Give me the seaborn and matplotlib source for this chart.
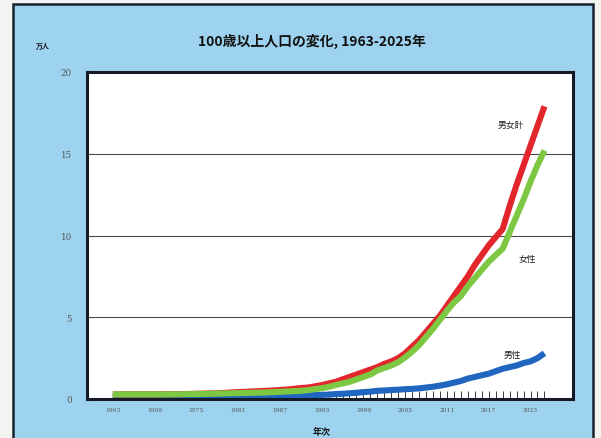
import matplotlib
matplotlib.use("Agg")
import matplotlib.pyplot as plt
from matplotlib.patches import Rectangle
import pandas as pd
import seaborn as sns

# 100歳以上人口（万人）, 1963-2025
years = list(range(1963, 2026))

total = [0.28, 0.28, 0.28, 0.28, 0.28, 0.28, 0.28, 0.29, 0.29, 0.30,
         0.30, 0.31, 0.32, 0.33, 0.34, 0.35, 0.37, 0.40, 0.42, 0.44,
         0.46, 0.48, 0.50, 0.52, 0.55, 0.58, 0.62, 0.67, 0.70, 0.77,
         0.85, 0.95, 1.05, 1.20, 1.35, 1.50, 1.65, 1.80, 1.95, 2.15,
         2.30, 2.50, 2.80, 3.20, 3.60, 4.10, 4.60, 5.10, 5.70, 6.30,
         6.90, 7.50, 8.20, 8.80, 9.40, 9.90, 10.40, 11.80, 13.10, 14.30,
         15.50, 16.70, 17.90]

female = [0.28, 0.28, 0.28, 0.28, 0.28, 0.28, 0.28, 0.28, 0.28, 0.29,
          0.29, 0.30, 0.30, 0.31, 0.32, 0.33, 0.34, 0.35, 0.36, 0.37,
          0.38, 0.39, 0.40, 0.42, 0.44, 0.46, 0.48, 0.50, 0.54, 0.60,
          0.66, 0.74, 0.85, 0.95, 1.05, 1.20, 1.35, 1.50, 1.75, 1.90,
          2.05, 2.25, 2.55, 2.90, 3.30, 3.80, 4.30, 4.85, 5.40, 5.90,
          6.30, 6.90, 7.40, 7.90, 8.40, 8.80, 9.20, 10.20, 11.20, 12.20,
          13.30, 14.30, 15.20]

male = [0.15, 0.15, 0.15, 0.15, 0.15, 0.15, 0.15, 0.15, 0.15, 0.15,
        0.15, 0.15, 0.15, 0.15, 0.15, 0.16, 0.16, 0.17, 0.17, 0.18,
        0.18, 0.19, 0.19, 0.20, 0.20, 0.21, 0.22, 0.22, 0.23, 0.24,
        0.25, 0.27, 0.30, 0.32, 0.35, 0.38, 0.42, 0.45, 0.50, 0.52,
        0.55, 0.57, 0.60, 0.62, 0.65, 0.70, 0.75, 0.82, 0.90, 1.00,
        1.10, 1.25, 1.35, 1.45, 1.55, 1.70, 1.85, 1.95, 2.05, 2.20,
        2.30, 2.50, 2.80]

series_names = ["男性", "男女計", "女性"]
series_colors = {"男女計": "#e3252c", "女性": "#7dc843", "男性": "#2066c0"}

x_label_years = list(range(1963, 2024, 6))
y_ticks = [0, 5, 10, 15, 20]

df = pd.concat([
    pd.DataFrame({"年": years, "人口": male, "区分": "男性"}),
    pd.DataFrame({"年": years, "人口": total, "区分": "男女計"}),
    pd.DataFrame({"年": years, "人口": female, "区分": "女性"}),
], ignore_index=True)

sns.set_theme(style="white")
plt.rcParams["font.family"] = ["Noto Sans CJK JP", "DejaVu Sans"]

W, H = 601, 439
fig = plt.figure(figsize=(W / 100, H / 100), dpi=100)
fig.patch.set_facecolor("#f3f3f1")

# light-blue panel with dark frame, kept behind the axes
panel = Rectangle((13 / W, 1 - 470 / H), (593 - 13) / W, (470 - 5) / H,
                  transform=fig.transFigure, facecolor="#9dd3ef",
                  edgecolor="#17202e", linewidth=1.8, zorder=-10)
fig.patches.append(panel)

ax = fig.add_axes([87 / W, 1 - 400 / H, (573 - 87) / W, (400 - 73) / H])
ax.set_zorder(1)
ax.set_facecolor("white")

sns.lineplot(data=df, x="年", y="人口", hue="区分", hue_order=series_names,
             palette=series_colors, linewidth=4.4, legend=False, ax=ax,
             solid_capstyle="butt")

ax.set_xlim(1959.3, 2029.1)
ax.set_ylim(0, 20)

for v in [5, 10, 15]:
    ax.axhline(v, color="#4a4a4a", linewidth=0.8, zorder=0.5)

ax.set_xticks(x_label_years)
ax.set_xticklabels([str(y) for y in x_label_years], fontsize=4.3,
                   family=["DejaVu Serif"], color="#555555")
ax.set_xticks(years, minor=True)
ax.tick_params(axis="x", which="both", direction="in", length=6,
               width=0.7, color="#3a3a3a", pad=6, bottom=True, top=False)
ax.set_yticks(y_ticks)
ax.set_yticklabels([str(v) for v in y_ticks], fontsize=6.2,
                   family=["DejaVu Serif"], color="#555555")
ax.tick_params(axis="y", length=0, pad=11)

ax.set_xlabel("")
ax.set_ylabel("")

for side in ["left", "right", "top", "bottom"]:
    ax.spines[side].set_visible(True)
    ax.spines[side].set_color("#141a26")
    ax.spines[side].set_linewidth(2.2)

# series labels
ax.text(2020.1, 16.8, "男女計", fontsize=6.3, color="#222222", ha="center", va="center")
ax.text(2022.6, 8.6, "女性", fontsize=6.3, color="#222222", ha="center", va="center")
ax.text(2020.4, 2.7, "男性", fontsize=6.3, color="#222222", ha="center", va="center")

fig.text(312 / W, 1 - 41 / H, "100歳以上人口の変化, 1963-2025年",
         fontsize=10, fontweight="bold", color="#111111", ha="center", va="center")
fig.text(43 / W, 1 - 46 / H, "万人", fontsize=5, fontweight="bold",
         color="#111111", ha="center", va="center")
fig.text(322 / W, 1 - 432 / H, "年次", fontsize=6.5, fontweight="bold",
         color="#111111", ha="center", va="center")

fig.savefig("out.png", dpi=100)
